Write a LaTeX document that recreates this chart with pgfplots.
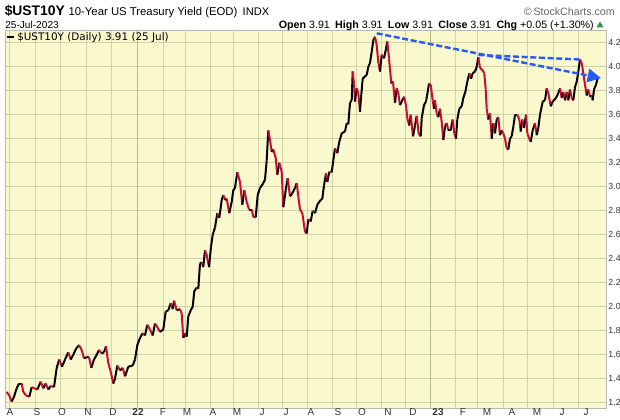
\documentclass[border=0pt]{standalone}
\usepackage{pgfplots}
\pgfplotsset{compat=1.18}
\usepackage{pgfplotstable}
\usetikzlibrary{arrows.meta}
\usepackage{fontspec}
\setmainfont{Liberation Sans}
\newfontfamily\legendfont{DejaVu Sans}

\definecolor{chartbg}{RGB}{250,248,205}
\definecolor{gridc}{RGB}{210,212,168}
\definecolor{yeargrid}{RGB}{178,186,128}
\definecolor{downred}{RGB}{205,10,50}
\definecolor{trendblue}{RGB}{40,90,245}
\definecolor{upgreen}{RGB}{40,150,60}

% x = chart position (px from left), y = yield in %
\pgfplotstableread{
x y
6.7 1.29
9.3 1.26
11.7 1.21
14 1.25
16.7 1.32
19 1.36
21.7 1.36
23.3 1.29
26 1.26
29.3 1.25
31.7 1.33
34.3 1.32
37.3 1.31
40.7 1.375
43.3 1.32
45.7 1.36
48.3 1.31
50.7 1.34
54 1.33
56.7 1.49
59.3 1.56
62 1.50
65 1.56
68.3 1.62
70.7 1.56
73.3 1.60
76 1.65
79 1.68
81.7 1.64
84 1.57
86.7 1.58
89 1.58
91.3 1.49
94 1.56
96.7 1.60
99 1.64
101.7 1.61
104 1.62
106 1.67
108.3 1.53
110.7 1.46
113.3 1.36
115 1.40
117.3 1.51
120 1.47
122.7 1.49
125 1.42
128.3 1.50
132.7 1.51
135 1.56
137.3 1.68
140 1.74
142.7 1.78
145 1.76
147.3 1.85
150 1.81
152.7 1.76
155 1.86
157.3 1.83
160 1.79
163.3 1.81
165.7 1.96
168.3 1.97
170.7 2.03
172.7 1.98
174 2.05
176.7 1.97
180 1.98
181.7 1.945
183.3 1.74
185 1.78
186.7 1.75
188.3 1.92
190.7 1.97
192.7 2.00
194.3 2.13
196.7 2.16
198.3 2.15
200 2.36
201.7 2.37
203.3 2.33
205 2.47
206.7 2.43
209 2.33
211 2.50
212.7 2.60
215 2.66
217.3 2.78
219.3 2.74
221.7 2.89
223.3 2.93
225 2.89
226.7 2.90
229.3 2.78
231.7 2.875
233.3 2.97
235 2.99
237.3 3.12
240 3.04
242.3 2.85
244.3 2.97
246.7 2.875
249 2.81
251.7 2.81
253.3 2.75
255.7 2.745
257.7 2.93
260 2.99
261.7 3.01
263.3 3.03
265 3.06
266.7 3.22
268.3 3.47
270 3.39
271.7 3.29
273.3 3.31
275.7 3.24
277.3 3.10
279.3 3.20
281.7 3.125
283.3 2.83
285.7 2.97
287.7 3.07
290 2.92
292.3 2.945
295 2.99
296.7 3.03
298.3 2.92
300 2.81
302.3 2.78
305 2.625
306.7 2.61
308.3 2.73
310.7 2.71
312.7 2.80
315 2.78
317.3 2.85
320.7 2.89
322.3 2.90
324 3.01
326 3.11
327.3 3.04
329.3 3.125
331.7 3.12
333.3 3.22
335 3.32
337.3 3.28
339.3 3.375
341.7 3.445
345 3.46
346.7 3.53
348.3 3.52
350 3.70
351.7 3.72
352.7 3.96
354 3.86
355 3.71
356.7 3.82
358.3 3.78
360 3.625
361 3.74
362.7 3.90
365 3.92
366.7 3.93
368.3 4.00
370 4.03
371.7 4.125
373.3 4.22
375 4.25
376.7 4.18
378.3 4.04
380 3.96
381.7 4.10
384 4.07
386 4.15
387.3 4.21
389 4.07
391.3 3.86
393 3.875
395 3.70
396.7 3.82
398.3 3.78
400 3.68
402.3 3.72
404 3.75
406 3.68
407.3 3.57
409.3 3.51
410.7 3.60
413 3.42
415 3.51
416.7 3.59
418.7 3.44
420.7 3.42
421.7 3.57
424 3.68
426 3.71
427.7 3.79
429 3.86
430.7 3.85
432.7 3.72
434 3.65
435 3.72
436.7 3.61
438.3 3.58
440 3.65
441.7 3.54
443.3 3.39
445 3.50
446.7 3.53
448.3 3.47
450.7 3.47
452.7 3.56
454.3 3.445
456 3.40
457.3 3.56
459.3 3.65
461.7 3.67
463.3 3.74
465.3 3.79
467.3 3.875
469.3 3.945
471 3.90
472.7 3.945
475 3.96
476.7 4.00
478.3 4.08
480 3.99
482.7 3.97
484.3 3.945
485.7 3.81
486.7 3.65
488.3 3.56
490 3.61
491.7 3.40
493.3 3.53
495 3.445
496.7 3.56
498.3 3.58
500 3.43
501.7 3.47
503.3 3.445
505 3.40
506.7 3.32
508.3 3.31
510 3.40
511.7 3.42
513.3 3.50
515 3.60
517.3 3.60
519.3 3.56
520.7 3.46
522.3 3.56
524 3.49
526 3.60
527.3 3.445
529.3 3.40
530.7 3.375
532.7 3.47
535 3.53
536.7 3.43
538.3 3.49
540 3.60
542.7 3.71
545 3.72
546.7 3.82
548.3 3.78
550.7 3.67
552.7 3.71
554 3.72
556 3.74
558.3 3.78
560 3.82
561.7 3.74
563.3 3.79
565 3.72
566.7 3.79
568.3 3.72
570 3.81
571.7 3.74
573.3 3.72
575 3.83
576.7 3.875
578.3 3.96
580 4.06
581.7 4.03
583.3 3.945
585 3.85
586.7 3.76
588.3 3.81
590 3.75
591.7 3.76
592.7 3.72
594 3.81
596 3.85
597.3 3.895
598.3 3.91
}\ust

% 1 where the next close is lower (segment drawn red), 0 otherwise
\pgfplotstablecreatecol[
  create col/assign/.code={%
    \getthisrow{y}\ustcur
    \getnextrow{y}\ustnxt
    \ifx\ustnxt\empty
      \def\ustentry{0}%
    \else
      \pgfmathparse{\ustnxt<\ustcur ? 1 : 0}%
      \let\ustentry\pgfmathresult
    \fi
    \pgfkeyslet{/pgfplots/table/create col/next content}\ustentry
  }]{dn}\ust

\begin{document}
\begin{tikzpicture}
\useasboundingbox (0,0) rectangle (465pt,-315pt);
\begin{axis}[
  at={(3.75pt,-306pt)}, anchor=south west,
  scale only axis, width=450.75pt, height=283.5pt,
  xmin=5, xmax=606, ymin=1.156, ymax=4.306,
  axis background/.style={fill=chartbg},
  axis line style={draw=black!28},
  xtick={9.3,35.1,60.2,86.1,111.2,137.2,163.2,185.7,210.1,233.7,258.1,282.0,307.0,332.1,356.4,381.4,405.4,430.2,455.0,477.5,503.1,527.9,553.6,578.4},
  xticklabels={},
  extra x ticks={10,37,62,88,113,138,163,187,213,237,262,286,311,338,362,388,413,438,463,487,512,537,562,586},
  extra x tick labels={A,S,O,N,D,\textbf{22},F,M,A,M,J,J,A,S,O,N,D,\textbf{23},F,M,A,M,J,J},
  extra x tick style={grid=none},
  ytick={1.2,1.4,1.6,1.8,2.0,2.2,2.4,2.6,2.8,3.0,3.2,3.4,3.6,3.8,4.0,4.2},
  yticklabel pos=right,
  grid=major, major grid style={gridc, line width=0.7pt},
  tick style={draw=none},
  scaled ticks=false,
  /pgf/number format/assume math mode=true,
  tick label style={text=black!80},
  xticklabel style={font=\fontsize{7.5}{9}\selectfont, inner sep=1pt, yshift=1pt},
  yticklabel style={font=\fontsize{6.6}{8}\selectfont, inner sep=0pt, xshift=1.6pt,
    /pgf/number format/fixed, /pgf/number format/fixed zerofill, /pgf/number format/precision=1},
]
\draw[yeargrid, line width=0.8pt] (137.2,1.156) -- (137.2,4.306);
\draw[yeargrid, line width=0.8pt] (430.2,1.156) -- (430.2,4.306);

\addplot[mesh, shader=flat corner, line width=1.5pt,
  colormap={updown}{color=(black) color=(downred)},
  point meta=\thisrow{dn}] table[x=x, y=y] {\ust};

\draw[trendblue, line width=1.8pt, dash pattern=on 4.5pt off 2pt]
  (478.3,4.098) -- (580.5,4.06);
\draw[trendblue, line width=1.8pt, dash pattern=on 4.5pt off 2pt,
  -{Triangle[length=10pt, width=10pt]}]
  (376.7,4.278) -- (601,3.905);
\end{axis}

\begin{scope}[x=0.75pt, y=-0.75pt]
  \node[anchor=base west, inner sep=0pt] at (4.5,16)
    {{\fontsize{10.4}{12}\selectfont\bfseries \$UST10Y} {\fontsize{8.5}{10}\selectfont 10-Year US Treasury Yield (EOD)}\hspace{4pt}{\fontsize{8.3}{10}\selectfont INDX}};
  \node[anchor=base east, inner sep=0pt, text=black!60, font=\fontsize{8}{10}\selectfont] at (615,16) {\textcopyright\,StockCharts.com};
  \node[anchor=base west, inner sep=0pt, font=\fontsize{7.6}{9}\selectfont] at (5,28.5) {25-Jul-2023};
  \node[anchor=base east, inner sep=0pt, font=\fontsize{8}{10}\selectfont] at (594,28.5)
    {\textbf{Open} 3.91\hspace{4pt}\textbf{High} 3.91\hspace{4pt}\textbf{Low} 3.91\hspace{4pt}\textbf{Close} 3.91\hspace{4pt}\textbf{Chg} +0.05 (+1.30\%)};
  \fill[upgreen] (596.5,27.5) -- (603.5,27.5) -- (600,21.5) -- cycle;
  % legend
  \draw[black, line width=1.6pt] (7,37) -- (14,37);
  \node[anchor=west, inner sep=0pt, font=\legendfont\fontsize{7.8}{9}\selectfont] at (17,37.3) {\$UST10Y (Daily) 3.91 (25 Jul)};
\end{scope}
\end{tikzpicture}
\end{document}
